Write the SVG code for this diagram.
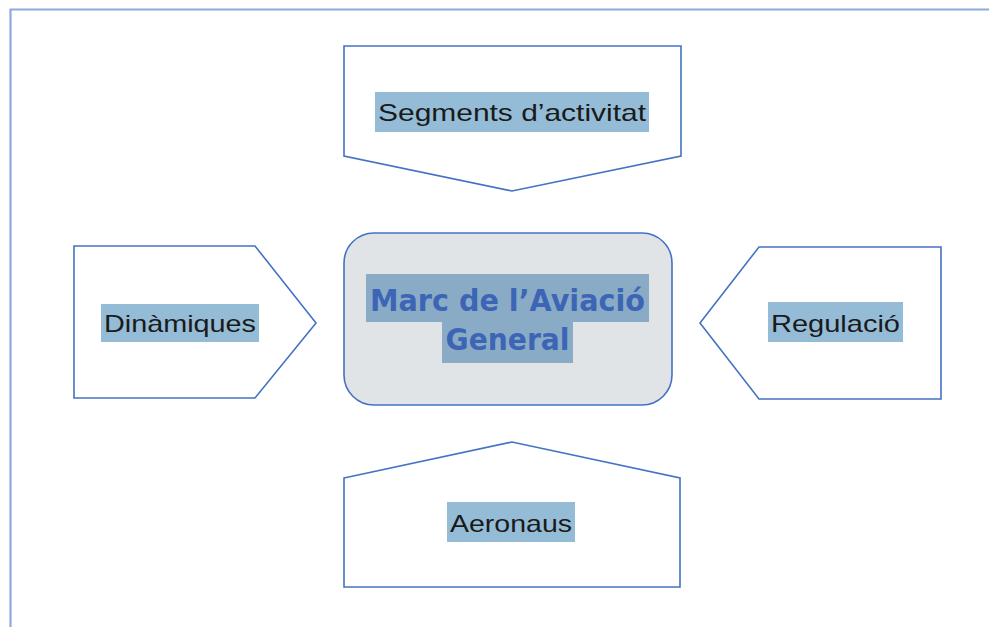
<svg xmlns="http://www.w3.org/2000/svg" width="989" height="627" viewBox="0 0 989 627">
<style>
.shape{fill:#ffffff;stroke:#4472C4;stroke-width:1.6;stroke-linejoin:miter}
.hl{fill:#94BCD7}
.hl2{fill:#8AABC6}
.lbl{font-family:"Liberation Sans",Arial,sans-serif;font-size:24px;fill:#1a1a1a;text-anchor:middle}
.main{font-family:"DejaVu Sans","Liberation Sans",sans-serif;font-weight:bold;font-size:30px;fill:#3D65B5;text-anchor:middle}
</style>
<rect width="989" height="627" fill="#ffffff"/>
<path d="M10.5,627 V9.5 H989" fill="none" stroke="#8EA9DB" stroke-width="2.2"/>
<g id="connectors"></g>
<g id="segments">
<polygon class="shape" points="344,46 681,46 681,156 512,191 344,156"/>
<rect class="hl" x="375" y="92" width="274" height="40"/>
<text class="lbl" x="512" y="121" textLength="268" lengthAdjust="spacingAndGlyphs">Segments d’activitat</text>
</g>
<g id="dinamiques">
<polygon class="shape" points="74,246 255,246 316,323 255,398 74,398"/>
<rect class="hl" x="101" y="304" width="158" height="38"/>
<text class="lbl" x="180" y="332" textLength="152" lengthAdjust="spacingAndGlyphs">Dinàmiques</text>
</g>
<g id="regulacio">
<polygon class="shape" points="941,247 759,247 700,323 759,399 941,399"/>
<rect class="hl" x="768" y="302" width="135" height="40"/>
<text class="lbl" x="835.5" y="332" textLength="129" lengthAdjust="spacingAndGlyphs">Regulació</text>
</g>
<g id="aeronaus">
<polygon class="shape" points="344,478 512,442 680,478 680,587 344,587"/>
<rect class="hl" x="447" y="502" width="128" height="40"/>
<text class="lbl" x="511" y="532" textLength="122" lengthAdjust="spacingAndGlyphs">Aeronaus</text>
</g>
<g id="marc">
<rect x="344" y="233" width="328" height="172" rx="30" ry="30" fill="#E1E4E6" stroke="#4472C4" stroke-width="1.6"/>
<rect class="hl2" x="366" y="274" width="283" height="48"/>
<rect class="hl2" x="442" y="322" width="131" height="41"/>
<text class="main" x="507.5" y="311" textLength="275" lengthAdjust="spacingAndGlyphs">Marc de l’Aviació</text>
<text class="main" x="507.5" y="350" textLength="124" lengthAdjust="spacingAndGlyphs">General</text>
</g>
</svg>
